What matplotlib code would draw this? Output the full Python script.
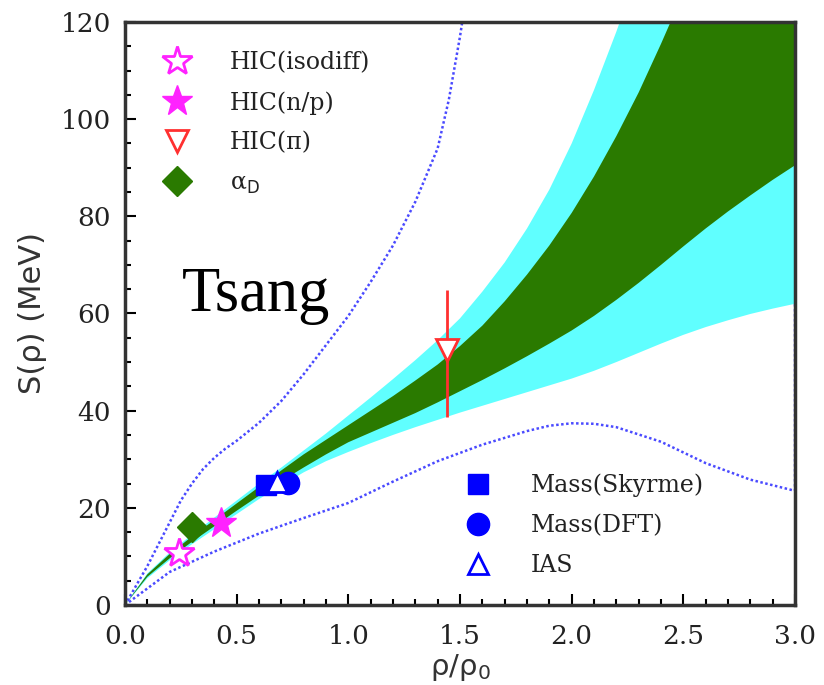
import numpy as np
import matplotlib
matplotlib.use("Agg")
import matplotlib.pyplot as plt
from matplotlib.lines import Line2D

# band grid (rho/rho0) and the symmetry energy bands
rho = [0, 0.1, 0.2, 0.3, 0.4, 0.5, 0.6, 0.7, 0.8, 0.9, 1.0,
       1.1, 1.2, 1.3, 1.4, 1.5, 1.6, 1.7, 1.8, 1.9, 2.0,
       2.1, 2.2, 2.3, 2.4, 2.5, 2.6, 2.7, 2.8, 2.9, 3.0]
cyan_hi = [0, 6.5, 10.8, 14.5, 18, 21.5, 25, 28.3, 31.8, 35.3, 39,
           42.7, 46.5, 50.4, 54.5, 59, 64.5, 70.5, 77.5, 85.5, 95,
           106, 118, 131, 145, 160, 176, 192, 208, 224, 240]
green_hi = [0, 6.3, 10.5, 14.1, 17.5, 20.9, 24.3, 27.7, 31, 34, 37,
            40, 43, 46.2, 49.5, 53.3, 57.5, 62.5, 68, 74, 80.7,
            88.2, 96.5, 105.5, 115.5, 126, 137, 148, 159, 170, 181]
green_lo = [0, 5.8, 9.6, 13, 16.2, 19.4, 22.5, 25.5, 28.3, 31, 33.5,
            35.5, 37.5, 39.5, 41.7, 44, 46.3, 48.7, 51.2, 53.8, 56.5,
            59.5, 62.8, 66.3, 70, 73.8, 77.5, 81, 84.3, 87.5, 90.5]
cyan_lo = [0, 5.5, 9.2, 12.5, 15.6, 18.7, 21.8, 24.6, 27.3, 29.6, 31.5,
           33.3, 35, 36.6, 38.1, 39.6, 41, 42.4, 43.8, 45.2, 46.6,
           48.2, 50, 51.9, 53.8, 55.6, 57.2, 58.6, 59.9, 61, 62]

# dotted outer curves
dot_hi_x = [0, 0.05, 0.1, 0.15, 0.2, 0.25, 0.3, 0.35, 0.4, 0.45, 0.5, 0.6, 0.7,
            0.8, 0.9, 1.0, 1.1, 1.2, 1.3, 1.4, 1.45, 1.5, 1.55]
dot_hi_y = [0, 4, 8, 12.5, 17, 21.5, 25, 28, 30.3, 32.2, 33.8, 37.5, 42,
            47.5, 53.5, 59.5, 66.5, 74, 83, 94, 104, 117, 132]
dot_lo_x = [0, 0.2, 0.4, 0.6, 0.8, 1.0, 1.2, 1.4, 1.6, 1.8, 1.9, 2.0, 2.1,
            2.2, 2.4, 2.6, 2.8, 3.0, 3.0]
dot_lo_y = [0, 6.8, 11, 14.7, 17.9, 21, 25.4, 29.6, 33, 35.8, 36.9, 37.4, 37.3,
            36.6, 33.6, 29.2, 25.8, 23.5, 62]

# constraints
isodiff = (0.24, 10.7)
np_ratio = (0.43, 16.9)
alpha_d = (0.30, 16.1)
mass_skyrme = (0.63, 24.7)
ias = (0.68, 25.3)
mass_dft = (0.73, 25.1)
pion = (1.44, 52.5)
pion_err = (13.8, 12.3)  # lower, upper

CYAN = '#60ffff'
GREEN = '#2a7a00'
MAG = '#ff22ff'
RED = '#ff3030'
BLUE = '#0000ff'
DOT = '#4a4aff'

plt.rcParams['mathtext.fontset'] = 'dejavusans'

fig = plt.figure(figsize=(8.24, 6.85), dpi=100)
ax = fig.add_axes([0.1517, 0.1168, 0.8131, 0.8511])

ax.fill_between(rho, cyan_lo, cyan_hi, color=CYAN, lw=0)
ax.fill_between(rho, green_lo, green_hi, color=GREEN, lw=0)
ax.plot(dot_hi_x, dot_hi_y, ls=(0, (1, 1)), color=DOT, lw=1.8)
ax.plot(dot_lo_x, dot_lo_y, ls=(0, (1, 1)), color=DOT, lw=1.8)

ax.errorbar([pion[0]], [pion[1]], yerr=[[pion_err[0]], [pion_err[1]]],
            fmt='v', ms=16, mfc='white', mec=RED, mew=2, ecolor=RED,
            elinewidth=2, capsize=0, zorder=5)
ax.plot(*isodiff, '*', ms=22, mfc='white', mec=MAG, mew=2, zorder=5)
ax.plot(*alpha_d, 'D', ms=15, color=GREEN, zorder=5)
ax.plot(*np_ratio, '*', ms=23, color=MAG, zorder=5)
ax.plot(*mass_skyrme, 's', ms=15, color=BLUE, zorder=5)
ax.plot(*mass_dft, 'o', ms=16, color=BLUE, zorder=5)
ax.plot(*ias, '^', ms=14, mfc='white', mec=BLUE, mew=2, zorder=6)

ax.set_xlim(0, 3.0)
ax.set_ylim(0, 120)
ax.set_xticks(np.arange(0, 3.01, 0.5))
ax.set_xticks(np.arange(0, 3.01, 0.1), minor=True)
ax.set_yticks(np.arange(0, 121, 20))
ax.set_yticks(np.arange(0, 121, 5), minor=True)
ax.tick_params(which='both', direction='in', top=False, right=False, width=1.5)
ax.tick_params(which='major', length=8)
ax.tick_params(which='minor', length=4)
ax.tick_params(axis='x', pad=14)
ax.tick_params(axis='y', pad=10)
for lab in ax.get_xticklabels() + ax.get_yticklabels():
    lab.set_family('DejaVu Serif')
    lab.set_fontsize(19)
    lab.set_color('#222222')
for sp in ax.spines.values():
    sp.set_linewidth(2.5)
    sp.set_color('#333333')

ax.set_xlabel(r'ρ/ρ$_0$', fontsize=21, color='#333333', labelpad=2)
ax.set_ylabel('S(ρ) (MeV)', fontsize=22, color='#333333', labelpad=10)

ax.text(0.085, 0.505, 'Tsang', transform=ax.transAxes, fontsize=45,
        family='Liberation Serif', color='black')

serif = {'family': 'DejaVu Serif', 'size': 17}
h1 = [
    Line2D([], [], ls='', marker='*', ms=22, mfc='white', mec=MAG, mew=2),
    Line2D([], [], ls='', marker='*', ms=23, color=MAG),
    Line2D([], [], ls='', marker='v', ms=16, mfc='white', mec=RED, mew=2),
    Line2D([], [], ls='', marker='D', ms=15, color=GREEN),
]
leg1 = ax.legend(h1, ['HIC(isodiff)', 'HIC(n/p)', 'HIC(π)', r'α$_{\rm D}$'],
                 loc='upper left', bbox_to_anchor=(0.051, 0.950), frameon=False,
                 prop=serif, handlelength=1.5, handletextpad=1.5,
                 labelspacing=0.72, borderpad=0, borderaxespad=0)
for t in leg1.get_texts():
    t.set_color('#222222')
ax.add_artist(leg1)

h2 = [
    Line2D([], [], ls='', marker='s', ms=15, color=BLUE),
    Line2D([], [], ls='', marker='o', ms=16, color=BLUE),
    Line2D([], [], ls='', marker='^', ms=14, mfc='white', mec=BLUE, mew=2),
]
leg2 = ax.legend(h2, ['Mass(Skyrme)', 'Mass(DFT)', 'IAS'],
                 loc='upper left', bbox_to_anchor=(0.5, 0.225), frameon=False,
                 prop=serif, handlelength=1.5, handletextpad=1.5,
                 labelspacing=0.72, borderpad=0, borderaxespad=0)
for t in leg2.get_texts():
    t.set_color('#222222')

fig.savefig('out.png', dpi=100)
